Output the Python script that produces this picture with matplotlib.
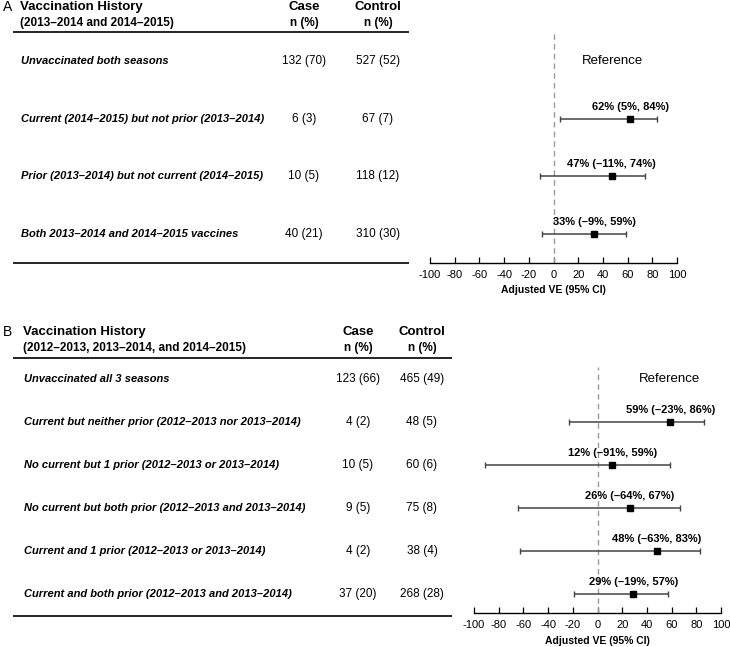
import matplotlib.pyplot as plt

plt.rcParams["font.family"] = ["Liberation Sans", "DejaVu Sans"]
plt.rcParams["axes.unicode_minus"] = False

# Panel A data
a_labels = ["Unvaccinated both seasons",
            "Current (2014\u20132015) but not prior (2013\u20132014)",
            "Prior (2013\u20132014) but not current (2014\u20132015)",
            "Both 2013\u20132014 and 2014\u20132015 vaccines"]
a_case = ["132 (70)", "6 (3)", "10 (5)", "40 (21)"]
a_control = ["527 (52)", "67 (7)", "118 (12)", "310 (30)"]
a_ve = [None, 62, 47, 33]
a_lo = [None, 5, -11, -9]
a_hi = [None, 84, 74, 59]

# Panel B data
b_labels = ["Unvaccinated all 3 seasons",
            "Current but neither prior (2012\u20132013 nor 2013\u20132014)",
            "No current but 1 prior (2012\u20132013 or 2013\u20132014)",
            "No current but both prior (2012\u20132013 and 2013\u20132014)",
            "Current and 1 prior (2012\u20132013 or 2013\u20132014)",
            "Current and both prior (2012\u20132013 and 2013\u20132014)"]
b_case = ["123 (66)", "4 (2)", "10 (5)", "9 (5)", "4 (2)", "37 (20)"]
b_control = ["465 (49)", "48 (5)", "60 (6)", "75 (8)", "38 (4)", "268 (28)"]
b_ve = [None, 59, 12, 26, 48, 29]
b_lo = [None, -23, -91, -64, -63, -19]
b_hi = [None, 86, 59, 67, 83, 57]

ticks = list(range(-100, 101, 20))

W, H = 730, 647
fig = plt.figure(figsize=(W / 100, H / 100), dpi=100)


def fx(px):
    return px / W


def fy(py):
    return 1 - py / H


def pct(v):
    return f"{v}%".replace("-", "\u2013")


def panel(letter, subtitle, labels, case, control, ve, lo, hi,
          row0, step, top, bottom, axis_y, dash_top, line_x1, label_x,
          case_x, ctrl_x, hdr_y, f_left, f_right, ref_x):
    n = len(labels)
    # table axes: x in pixels, y in row units
    ax_t = fig.add_axes([0, fy(bottom), 1, (bottom - top) / H])
    ax_t.set_xlim(0, W)
    ax_t.set_ylim((bottom - row0) / step, (top - row0) / step)
    ax_t.axis("off")
    ax_t.hlines([(top - row0) / step, (bottom - row0) / step], 13, line_x1,
                color="black", lw=1.2, clip_on=False)
    for i in range(n):
        ax_t.text(label_x, i, labels[i], fontsize=8, fontweight="bold",
                  fontstyle="italic", va="center", ha="left")
        ax_t.text(case_x, i, case[i], fontsize=8.5, va="center", ha="center")
        ax_t.text(ctrl_x, i, control[i], fontsize=8.5, va="center", ha="center")

    fig.text(fx(3), fy(hdr_y), letter, fontsize=10, va="center", ha="left")
    fig.text(fx(label_x - 1), fy(hdr_y), "Vaccination History", fontsize=9.5,
             fontweight="bold", va="center", ha="left")
    fig.text(fx(label_x - 1), fy(hdr_y + 16), subtitle, fontsize=8.5,
             fontweight="bold", va="center", ha="left")
    fig.text(fx(case_x), fy(hdr_y), "Case", fontsize=9.5, fontweight="bold",
             va="center", ha="center")
    fig.text(fx(case_x), fy(hdr_y + 16), "n (%)", fontsize=8.5,
             fontweight="bold", va="center", ha="center")
    fig.text(fx(ctrl_x), fy(hdr_y), "Control", fontsize=9.5,
             fontweight="bold", va="center", ha="center")
    fig.text(fx(ctrl_x), fy(hdr_y + 16), "n (%)", fontsize=8.5,
             fontweight="bold", va="center", ha="center")

    # forest axes, same row scale as the table
    ax = fig.add_axes([fx(f_left), fy(axis_y), fx(f_right) - fx(f_left),
                       (axis_y - top) / H])
    ax.set_xlim(-100, 100)
    ax.set_ylim((axis_y - row0) / step, (top - row0) / step)
    ax.patch.set_alpha(0)
    for s in ["left", "right", "top"]:
        ax.spines[s].set_visible(False)
    ax.spines["bottom"].set_linewidth(1.0)
    ax.set_yticks([])
    ax.set_xticks(ticks)
    ax.tick_params(axis="x", direction="in", length=4, width=0.9,
                   labelsize=8, pad=5)
    ax.set_xlabel("Adjusted VE (95% CI)", fontsize=7.5, fontweight="bold",
                  labelpad=4)
    ax.axvline(0, ymax=(axis_y - dash_top) / (axis_y - top), color="#9a9a9a",
               lw=1.0, ls=(0, (4, 3)))
    ax.text(ref_x, 0, "Reference", fontsize=9.5, va="center", ha="center")
    for i in range(n):
        if ve[i] is None:
            continue
        ax.errorbar(ve[i], i, xerr=[[ve[i] - lo[i]], [hi[i] - ve[i]]],
                    fmt="s", color="black", ecolor="#444444", elinewidth=1.1,
                    capsize=2.5, capthick=1.0, markersize=4.8)
        ax.annotate(f"{ve[i]}% ({pct(lo[i])}, {pct(hi[i])})", (ve[i], i),
                    xytext=(0, 5), textcoords="offset points", ha="center",
                    va="bottom", fontsize=8, fontweight="bold")


panel("A", "(2013\u20132014 and 2014\u20132015)", a_labels, a_case, a_control,
      a_ve, a_lo, a_hi, row0=61, step=57.7, top=32, bottom=263, axis_y=263,
      dash_top=32, line_x1=409, label_x=21, case_x=304, ctrl_x=378, hdr_y=7,
      f_left=430, f_right=677, ref_x=48)
panel("B", "(2012\u20132013, 2013\u20132014, and 2014\u20132015)", b_labels,
      b_case, b_control, b_ve, b_lo, b_hi, row0=379, step=43, top=358,
      bottom=616, axis_y=613, dash_top=367, line_x1=452, label_x=24,
      case_x=358, ctrl_x=422, hdr_y=332, f_left=474, f_right=721, ref_x=58)

fig.savefig("out.png", dpi=100)
